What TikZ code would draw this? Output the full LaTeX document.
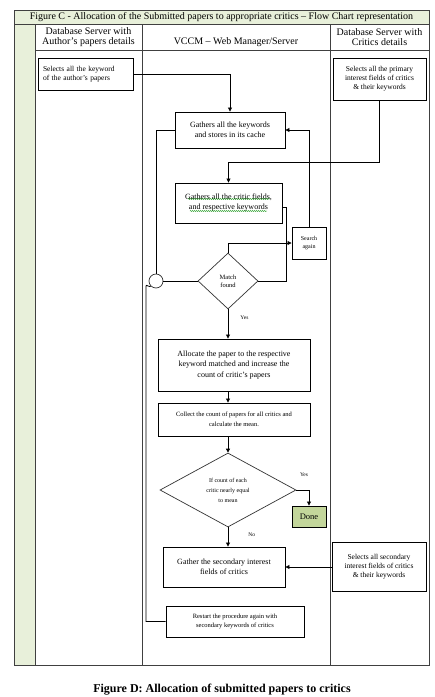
\documentclass[tikz,border=0pt]{standalone}
\usepackage{fontspec}
\setmainfont{Liberation Serif}
\usetikzlibrary{arrows.meta,shapes.geometric,decorations.pathmorphing}
\definecolor{lgreen}{HTML}{E8F0DA}
\definecolor{donegreen}{HTML}{C3D69B}
\definecolor{tline}{HTML}{404040}
\tikzset{
  box/.style={draw=black, line width=0.9pt, fill=white, align=center, inner sep=1pt, font=\fontsize{7.5}{9}\selectfont},
  dia/.style={draw=black!80, line width=0.7pt, diamond, aspect=1, inner sep=0pt, align=center, font=\fontsize{6.5}{8}\selectfont},
  conn/.style={draw=black, line width=0.8pt},
  arr/.style={conn, -{Triangle[length=4pt,width=4pt]}},
  tbl/.style={draw=tline, line width=0.8pt},
  lbl/.style={font=\fontsize{5.5}{6}\selectfont, inner sep=0pt},
  hdr/.style={align=center, font=\fontsize{10}{10.5}\selectfont, inner sep=0pt},
  squig/.style={draw=green!55!black, line width=0.4pt, decorate, decoration={snake, amplitude=0.5pt, segment length=2pt}}
}
\begin{document}
\begin{tikzpicture}[x=1pt,y=-1pt]
\useasboundingbox (0,0) rectangle (435,697);
\fill[white] (0,0) rectangle (435,697);
% table
\filldraw[tbl, fill=lgreen] (14,10) rectangle (429,24);
\filldraw[tbl, fill=lgreen] (14,24) rectangle (35,665);
\draw[tbl] (14,10) rectangle (429,665);
\draw[tbl] (35,50) -- (429,50);
\draw[tbl] (142,24) -- (142,665);
\draw[tbl] (330,24) -- (330,665);
\node[font=\fontsize{10}{10}\selectfont, inner sep=0pt] (title) at (221.5,17.5) {Figure C - Allocation of the Submitted papers to appropriate critics – Flow Chart representation};
\node[hdr] (h1) at (88.5,37) {Database Server with\\Author’s papers details};
\node[hdr] (h2) at (236,42) {VCCM – Web Manager/Server};
\node[hdr] (h3) at (379.5,37) {Database Server with\\Critics details};
% boxes
\node[box, minimum width=95pt, minimum height=32pt, text width=85pt, align=left] (sa) at (85.5,74) {Selects all the keyword\\of the author’s papers};
\node[box, minimum width=93pt, minimum height=42pt] (sp) at (379.5,79) {Selects all the primary\\interest fields of critics\\\& their keywords};
\node[box, minimum width=110pt, minimum height=36pt, font=\fontsize{8}{10}\selectfont] (gk) at (230,130) {Gathers all the keywords\\and stores in its cache};
\node[box, minimum width=107pt, minimum height=40pt, font=\fontsize{8}{10}\selectfont] (gc) at (228.5,203) {Gathers all the critic fields,\\and respective keywords};
\node[box, minimum width=34pt, minimum height=32pt, font=\fontsize{6}{8}\selectfont] (sg) at (309,243) {Search\\again};
\node[dia, minimum width=60pt, minimum height=56pt] (mf) at (228,281) {Match\\found};
\node[box, minimum width=152pt, minimum height=52pt, font=\fontsize{8}{10.5}\selectfont] (al) at (234,365) {Allocate the paper to the respective\\keyword matched and increase the\\count of critic’s papers};
\node[box, minimum width=152pt, minimum height=33pt, font=\fontsize{6.5}{10}\selectfont] (co) at (234,419.5) {Collect the count of papers for all critics and\\calculate the mean.};
\node[dia, aspect=1.85, minimum width=136pt, minimum height=74pt, font=\fontsize{6}{10}\selectfont] (eq) at (228,490) {If count of each\\critic nearly equal\\to mean};
\node[box, fill=donegreen, minimum width=34pt, minimum height=21pt, font=\fontsize{8.5}{10}\selectfont] (done) at (309,516.5) {Done};
\node[box, minimum width=122pt, minimum height=40pt, font=\fontsize{8}{10}\selectfont] (gs) at (224,567) {Gather the secondary interest\\fields of critics};
\node[box, minimum width=94pt, minimum height=49pt] (ss) at (379,566.5) {Selects all secondary\\interest fields of critics\\\& their keywords};
\node[box, minimum width=138pt, minimum height=31pt, font=\fontsize{6.5}{9.5}\selectfont] (rs) at (235,621.5) {Restart the procedure again with\\secondary keywords of critics};
\node[draw=black!80, line width=0.7pt, circle, minimum size=14pt, inner sep=0pt, fill=white] (circ) at (156,281) {};
% spell-check squiggles
\draw[squig] (188,199) -- (270,199);
\draw[squig] (190,211) -- (267,211);
% connectors
\draw[arr] (sa.east) -| (gk.north);
\draw[arr] (sp.south) -- ++(0,62) -| (gc.north);
\draw[conn] ([yshift=-4pt]gc.east) -- ++(4,0) |- (mf.east);
\draw[arr] (mf.north) |- (sg.west);
\draw[arr] (sg.north) |- (gk.east);
\draw[conn] (mf.west) -- (circ.east);
\draw[conn] (circ.north) |- (gk.west);
\draw[conn] (rs.west) -| ([xshift=-10pt,yshift=-5pt]circ.center) to[out=90,in=225] (circ.south west);
\draw[arr] (mf.south) -- (mf.south |- al.north) node[lbl, pos=0.3, right=12pt] (yes1) {Yes};
\draw[arr] (al.south -| mf.south) -- (co.north -| mf.south);
\draw[arr] (co.south -| eq.north) -- (eq.north);
\draw[arr] (eq.east) -| (done.north);
\node[lbl] (yes2) at (304,475) {Yes};
\draw[arr] (eq.south) -- (eq.south |- gs.north) node[lbl, pos=0.4, right=20pt] (no1) {No};
\draw[arr] (ss.west |- gs.east) -- (gs.east);
% caption
\node[font=\bfseries\fontsize{12}{13}\selectfont, anchor=north, inner sep=0pt] (cap) at (222,684) {Figure D: Allocation of submitted papers to critics};
\end{tikzpicture}
\end{document}
